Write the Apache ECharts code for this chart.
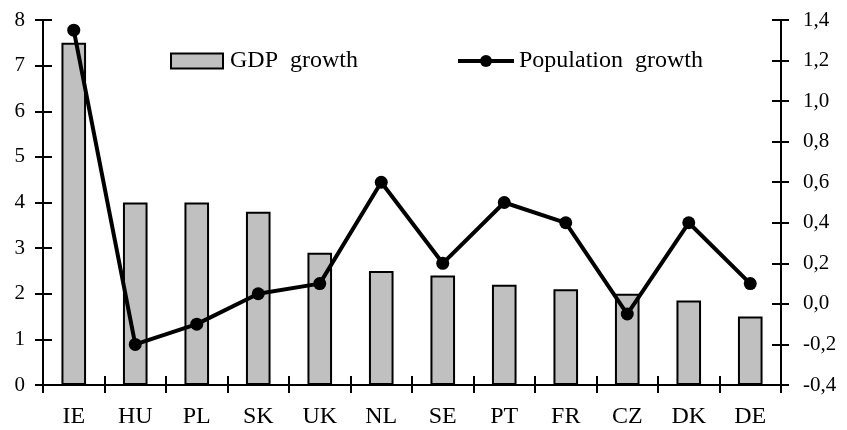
<!DOCTYPE html>
<html><head><meta charset="utf-8">
<script src="https://cdn.jsdelivr.net/npm/echarts@6/dist/echarts.min.js"></script>
<style>html,body{margin:0;padding:0;background:#fff}#c{width:847px;height:430px}</style>
</head><body><div id="c"></div>
<script>
var categories = ['IE','HU','PL','SK','UK','NL','SE','PT','FR','CZ','DK','DE'];
var gdpGrowth = [7.5, 4.0, 4.0, 3.8, 2.9, 2.5, 2.4, 2.2, 2.1, 2.0, 1.85, 1.5];
var popGrowth = [1.35, -0.2, -0.1, 0.05, 0.1, 0.6, 0.2, 0.5, 0.4, -0.05, 0.4, 0.1];
var seriesNames = ['GDP growth', 'Population growth'];

var FONT = 'Liberation Serif';
var chart = echarts.init(document.getElementById('c'), null, {renderer: 'canvas'});
function fmtComma(v){ return v.toFixed(1).replace('.', ',').replace('-0,0','0,0'); }
function wide(n){ return n.replace(' ', '  '); }
var tickOut = {show: true, inside: false, length: 8, lineStyle: {color: '#000', width: 2}};
var tickIn = {show: true, inside: true, length: 9, lineStyle: {color: '#000', width: 2}};
var axLine = {show: true, onZero: false, lineStyle: {color: '#000', width: 2}};
var legendText = {fontFamily: FONT, fontSize: 24, color: '#000', lineHeight: 15};
chart.setOption({
  animation: false,
  textStyle: {fontFamily: FONT, color: '#000'},
  grid: {left: 43, right: 66, top: 20, bottom: 45, containLabel: false},
  legend: [
    {data: [{name: seriesNames[0], icon: 'rect'}], left: 170, top: 49, padding: 0, itemWidth: 52, itemHeight: 15,
     formatter: wide, itemStyle: {borderWidth: 2, borderColor: '#000'},
     textStyle: Object.assign({padding: [0,0,0,2]}, legendText)},
    {data: [seriesNames[1]], left: 456, top: 49, padding: 0, itemWidth: 56, itemHeight: 15,
     formatter: wide, lineStyle: {width: 4, color: '#000'},
     textStyle: Object.assign({padding: [0,0,0,0]}, legendText)}
  ],
  xAxis: [
    {type: 'category', data: categories, position: 'bottom', axisLine: axLine, axisTick: tickOut,
     axisLabel: {fontFamily: FONT, fontSize: 24, color: '#000', margin: 20, interval: 0}},
    {type: 'category', data: categories, position: 'bottom', axisLine: {show: false}, axisTick: tickIn,
     axisLabel: {show: false}}
  ],
  yAxis: [
    {type: 'value', min: 0, max: 8, interval: 1, position: 'left', axisLine: axLine, axisTick: tickOut,
     splitLine: {show: false}, axisLabel: {fontFamily: FONT, fontSize: 21, color: '#000', margin: 18}},
    {type: 'value', min: 0, max: 8, interval: 1, position: 'left', axisLine: {show: false}, axisTick: tickIn,
     splitLine: {show: false}, axisLabel: {show: false}},
    {type: 'value', min: -0.4, max: 1.4, interval: 0.2, position: 'right', axisLine: axLine, axisTick: tickOut,
     splitLine: {show: false}, axisLabel: {fontFamily: FONT, fontSize: 21, color: '#000', margin: 22, formatter: fmtComma}},
    {type: 'value', min: -0.4, max: 1.4, interval: 0.2, position: 'right', axisLine: {show: false}, axisTick: tickIn,
     splitLine: {show: false}, axisLabel: {show: false}}
  ],
  series: [
    {name: seriesNames[0], type: 'bar', data: gdpGrowth, xAxisIndex: 0, yAxisIndex: 0, barWidth: '40%',
     itemStyle: {color: '#c0c0c0', borderColor: '#000', borderWidth: 2}},
    {name: seriesNames[1], type: 'line', data: popGrowth, xAxisIndex: 0, yAxisIndex: 2,
     symbol: 'circle', symbolSize: 13, lineStyle: {color: '#000', width: 4},
     itemStyle: {color: '#000'}}
  ]
});
</script></body></html>
